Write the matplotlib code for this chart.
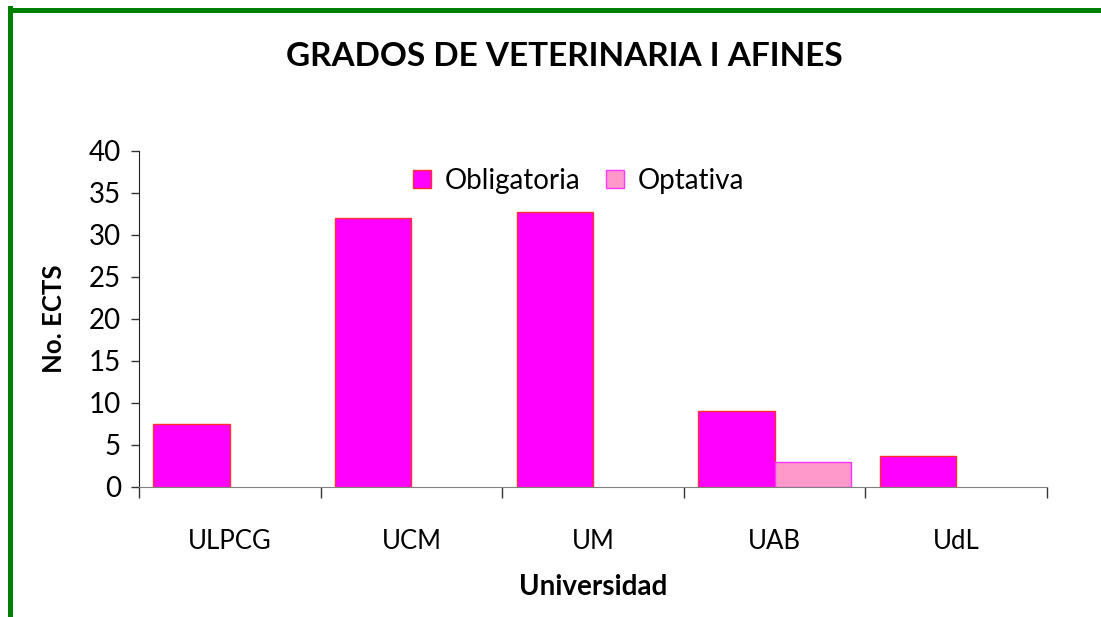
import numpy as np
import matplotlib.pyplot as plt
from matplotlib.lines import Line2D

# Data
universidades = ['ULPCG', 'UCM', 'UM', 'UAB', 'UdL']
obligatoria = [7.5, 32.0, 32.7, 9.0, 3.7]
optativa = [0, 0, 0, 3.0, 0]

plt.rcParams['font.family'] = ['Lato', 'DejaVu Sans']

fig = plt.figure(figsize=(11.01, 6.17), dpi=100)
ax = fig.add_axes([0.1262, 0.2107, 0.8248, 0.5446])

x = np.arange(len(universidades))
w = 0.42
ax.bar(x - w/2, obligatoria, width=w, color='#FF00FF', edgecolor='#FF3030',
       linewidth=1, label='Obligatoria')
opt = np.array(optativa, dtype=float)
mask = opt > 0
ax.bar(x[mask] + w/2, opt[mask], width=w, color='#FF99CC', edgecolor='#FF33FF',
       linewidth=1, label='Optativa')

ax.set_xlim(-0.5, len(universidades) - 0.5)
ax.set_ylim(0, 40)
ax.set_yticks(range(0, 41, 5))
ax.set_xticks(x)
ax.set_xticklabels(universidades)
ax.set_xticks(np.arange(-0.5, len(universidades)), minor=True)
ax.tick_params(axis='x', which='major', length=0, pad=30, labelsize=18.5)
ax.tick_params(axis='x', which='minor', length=8, width=1, color='#333333', direction='out')
ax.tick_params(axis='y', length=6, width=1, labelsize=20, pad=7, color='#333333')

for s in ['top', 'right']:
    ax.spines[s].set_visible(False)
ax.spines['left'].set_color('#222222')
ax.spines['bottom'].set_color('#808080')

ax.set_ylabel('No. ECTS', fontsize=18.5, fontweight='bold', labelpad=16)
ax.set_xlabel('Universidad', fontsize=20, fontweight='bold', labelpad=15)

fig.text(0.513, 0.908, 'GRADOS DE VETERINARIA I AFINES', ha='center', va='center',
         fontsize=24, fontweight='bold')

ax.legend(loc='upper center', bbox_to_anchor=(0.484, 1.025), ncol=2, frameon=False,
          fontsize=20, handlelength=0.65, handleheight=0.65, handletextpad=0.5,
          columnspacing=0.9)

# green frame on top and left edges
fig.add_artist(Line2D([10/1101, 1.0], [1 - 10/617, 1 - 10/617], color='#008000',
                      linewidth=3.6, transform=fig.transFigure))
fig.add_artist(Line2D([10/1101, 10/1101], [0, 1 - 8/617], color='#008000',
                      linewidth=3.6, transform=fig.transFigure))

fig.savefig('out.png', dpi=100)
